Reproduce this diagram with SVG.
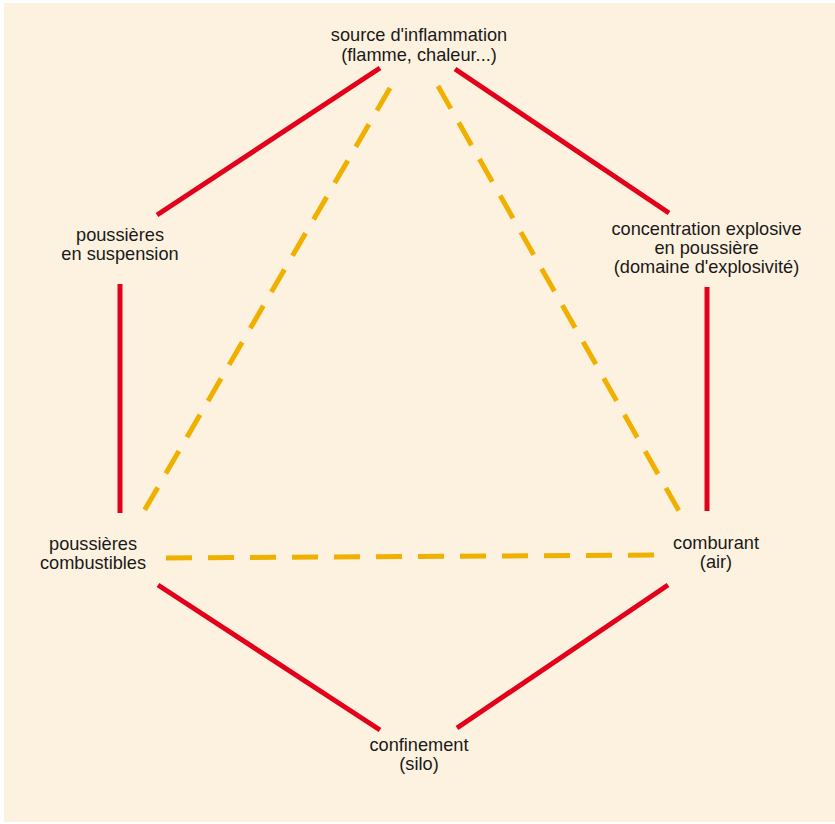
<svg xmlns="http://www.w3.org/2000/svg" width="835" height="824" viewBox="0 0 835 824">
<style>
.bg{fill:#FDF2E0}
.red{stroke:#E2001A;stroke-width:5;fill:none}
.dash{stroke:#F0B000;stroke-width:5;fill:none;stroke-dasharray:26 16}
text{font-family:"Liberation Sans",Arial,sans-serif;font-size:18.2px;fill:#1a1a1a;text-anchor:middle}
</style>
<rect class="bg" x="4" y="3" width="831" height="819"/>
<g id="connectors">
<line class="red" x1="380" y1="68" x2="157" y2="215"/>
<line class="red" x1="455" y1="69" x2="669" y2="213"/>
<line class="red" x1="120" y1="284" x2="120" y2="513"/>
<line class="red" x1="707" y1="287" x2="707" y2="511"/>
<line class="red" x1="158" y1="585" x2="380" y2="730"/>
<line class="red" x1="668" y1="585" x2="457" y2="728"/>
<line class="dash" x1="390" y1="88" x2="140" y2="518"/>
<line class="dash" x1="438" y1="86" x2="683" y2="518"/>
<line class="dash" x1="166" y1="558" x2="662" y2="555"/>
</g>
<g id="source">
<text x="419" y="41">source d'inflammation</text>
<text x="419" y="61">(flamme, chaleur...)</text>
</g>
<g id="suspension">
<text x="120" y="241">poussières</text>
<text x="120" y="260">en suspension</text>
</g>
<g id="concentration">
<text x="706.5" y="234.5">concentration explosive</text>
<text x="706.5" y="253.5">en poussière</text>
<text x="706.5" y="272.5">(domaine d'explosivité)</text>
</g>
<g id="combustibles">
<text x="93" y="549.5">poussières</text>
<text x="93" y="568.5">combustibles</text>
</g>
<g id="comburant">
<text x="716" y="549">comburant</text>
<text x="716" y="568">(air)</text>
</g>
<g id="confinement">
<text x="419" y="751">confinement</text>
<text x="419" y="770">(silo)</text>
</g>
</svg>
